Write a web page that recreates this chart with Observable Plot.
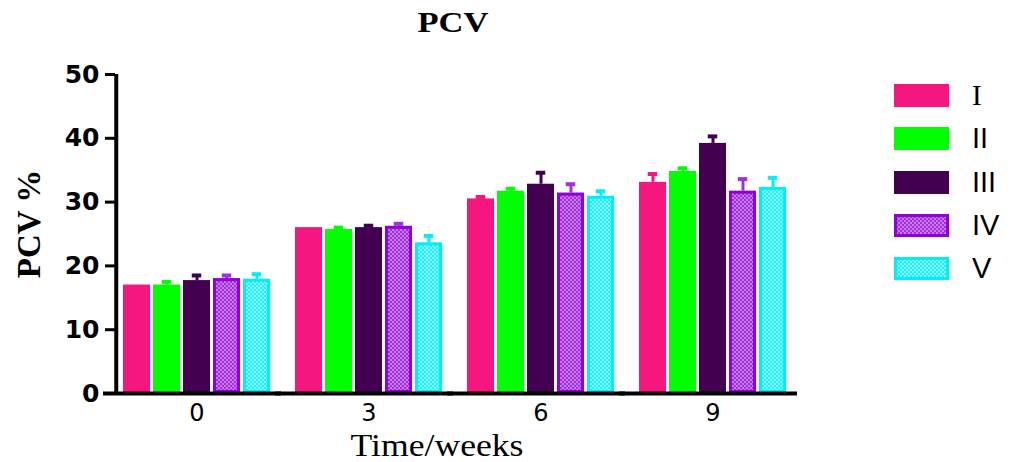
<!DOCTYPE html>
<html>
<head>
<meta charset="utf-8">
<script src="https://cdn.jsdelivr.net/npm/d3@7"></script>
<script src="https://cdn.jsdelivr.net/npm/@observablehq/plot@0.6"></script>
<style>
  html, body { margin: 0; padding: 0; background: #fff; }
  #wrap { position: relative; width: 1013px; height: 462px; overflow: hidden; }
  #title { height: 45px; position: relative; }
  #title span { position: absolute; left: 453px; top: 5px; transform: translateX(-50%) scaleX(1.15);
    font-family: "Liberation Serif", serif; font-weight: bold; font-size: 30px; line-height: 34px; }
  #ylab { position: absolute; left: 29px; top: 224px; transform: translate(-50%, -50%) rotate(-90deg);
    font-family: "Liberation Serif", serif; font-weight: bold; font-size: 33px; white-space: nowrap; }
  #xlab { position: absolute; left: 437px; top: 445px; transform: translate(-50%, -50%) scaleX(1.15);
    font-family: "Liberation Serif", serif; font-size: 31px; line-height: 31px; white-space: nowrap; }
  .leg { position: absolute; left: 894px; height: 23px; display: flex; align-items: center; }
  .leg svg { display: block; }
  .leg span { position: absolute; left: 78px; font-family: "Liberation Sans", sans-serif; font-size: 29px; line-height: 29px; white-space: nowrap; }
  .leg span.serif { font-family: "Liberation Serif", serif; }
</style>
</head>
<body>
<svg width="0" height="0" style="position:absolute">
  <defs>
    <pattern id="pIV" width="4" height="4" patternUnits="userSpaceOnUse">
      <rect width="4" height="4" fill="#a22ee0"/>
      <rect width="2" height="2" fill="#c67cf2"/>
      <rect x="2" y="2" width="2" height="2" fill="#c67cf2"/>
    </pattern>
    <pattern id="pV" width="4" height="4" patternUnits="userSpaceOnUse">
      <rect width="4" height="4" fill="#1cf0fa"/>
      <rect width="2" height="2" fill="#8cf9ff"/>
      <rect x="2" y="2" width="2" height="2" fill="#8cf9ff"/>
    </pattern>
  </defs>
</svg>
<div id="wrap">
  <div id="title"><span>PCV</span></div>
  <div id="chart"></div>
  <div id="ylab">PCV %</div>
  <div id="xlab">Time/weeks</div>
  <div id="legend"></div>
</div>
<script>
// ---- data ----
const weeks = ["0", "3", "6", "9"];
const groups = ["I", "II", "III", "IV", "V"];
const meanI   = [17.0, 26.0, 30.5, 33.1];
const meanII  = [17.0, 25.7, 31.7, 34.8];
const meanIII = [17.7, 26.0, 32.8, 39.2];
const meanIV  = [18.0, 26.2, 31.4, 31.7];
const meanV   = [17.9, 23.6, 30.9, 32.3];
const errI   = [0.0, 0.0, 0.3, 1.3];
const errII  = [0.5, 0.3, 0.4, 0.5];
const errIII = [0.8, 0.3, 1.8, 1.1];
const errIV  = [0.5, 0.4, 1.4, 1.9];
const errV   = [0.8, 1.1, 0.8, 1.5];
const yTicks = [0, 10, 20, 30, 40, 50];

// ---- styles ----
const fills = ["#f5177f", "#00ff00", "#430050", "url(#pIV)", "url(#pV)"];
const errColors = ["#f5177f", "#00ff00", "#430050", "#a030e0", "#00eef8"];
const outline = {IV: "#9300d6", V: "#00eef8"};

const means = [meanI, meanII, meanIII, meanIV, meanV];
const errs = [errI, errII, errIII, errIV, errV];
const data = [];
weeks.forEach((w, wi) => groups.forEach((g, gi) => {
  data.push({week: w, group: g, value: means[gi][wi], err: errs[gi][wi]});
}));

const marks = [
  Plot.barY(data, {fx: "week", x: "group", y: "value", fill: "group"}),
];
for (const g of ["IV", "V"]) {
  marks.push(Plot.barY(data.filter(d => d.group === g), {
    fx: "week", x: "group", y: "value", fill: "none", stroke: outline[g], strokeWidth: 3, inset: 1.5
  }));
}
groups.forEach((g, gi) => {
  const sub = data.filter(d => d.group === g && d.err > 0);
  marks.push(Plot.ruleX(sub, {fx: "week", x: "group", y1: "value", y2: d => d.value + d.err, stroke: errColors[gi], strokeWidth: 3}));
  marks.push(Plot.tickY(sub, {fx: "week", x: "group", y: d => d.value + d.err, stroke: errColors[gi], strokeWidth: 4, insetLeft: 8.75, insetRight: 8.75}));
});
// baseline (x axis line)
marks.push(Plot.ruleY([0], {stroke: "#000", strokeWidth: 4, insetLeft: -19, insetRight: -10}));
// y axis line, first facet only
marks.push(Plot.ruleX([weeks[0]], {fx: d => d, x: () => groups[0], y1: () => 0, y2: () => 50, stroke: "#000", strokeWidth: 4, dx: -20.75}));
marks.push(Plot.axisY({ticks: yTicks, tickSize: 10, tickPadding: 6, strokeWidth: 3, dx: -7,
  fontSize: 25, fontWeight: "bold", fontFamily: "DejaVu Sans", label: null}));
marks.push(Plot.axisFx({anchor: "bottom", tickSize: 0, tickPadding: 10, fontSize: 24, fontFamily: "DejaVu Sans", label: null}));

const plot = Plot.plot({
  width: 1013,
  height: 417,
  marginTop: 29,
  marginBottom: 69,
  marginLeft: 122,
  marginRight: 226,
  style: {background: "transparent", color: "#000", overflow: "visible"},
  fx: {domain: weeks, paddingInner: 0.134, paddingOuter: 0},
  x: {domain: groups, paddingInner: 0.09, paddingOuter: 0, axis: null},
  y: {domain: [0, 50]},
  color: {domain: groups, range: fills},
  marks
});
document.getElementById("chart").appendChild(plot);

// ---- legend ----
const legend = document.getElementById("legend");
const legTops = [84, 127, 171, 214, 257];
groups.forEach((g, gi) => {
  const row = document.createElement("div");
  row.className = "leg";
  row.style.top = legTops[gi] + "px";
  const stroke = outline[g] ? `stroke="${outline[g]}" stroke-width="3"` : "";
  const inset = outline[g] ? 1.5 : 0;
  row.innerHTML = `<svg width="55" height="23"><rect x="${inset}" y="${inset}" width="${55 - 2 * inset}" height="${23 - 2 * inset}" fill="${fills[gi]}" ${stroke}/></svg>` +
    `<span class="${g === "I" ? "serif" : ""}">${g}</span>`;
  legend.appendChild(row);
});
</script>
</body>
</html>
